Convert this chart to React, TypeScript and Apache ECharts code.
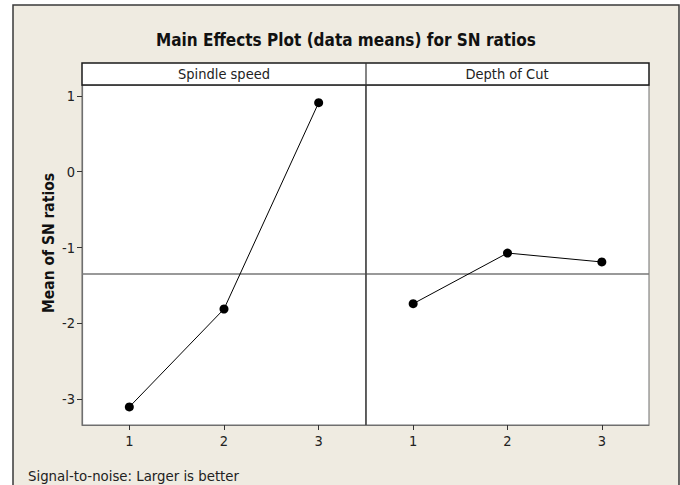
import React, { useEffect, useRef } from "react";
import * as echarts from "echarts";

const levels = ["1", "2", "3"];
const spindleSpeed = [-3.105, -1.812, 0.912];
const depthOfCut = [-1.742, -1.073, -1.191];
const panelTitles = ["Spindle speed", "Depth of Cut"];
const yTicks = [-3, -2, -1, 0, 1];
const yMin = -3.343;
const yMax = 1.145;
const chartTitle = "Main Effects Plot (data means) for SN ratios";
const yAxisTitle = "Mean of SN ratios";
const footerText = "Signal-to-noise: Larger is better";

const FONT = "'DejaVu Sans Condensed', 'DejaVu Sans', sans-serif";

export default function App() {
  const ref = useRef<HTMLDivElement>(null);
  useEffect(() => {
    if (!ref.current) return;
    const chart = echarts.init(ref.current, null, { renderer: "svg" });
    const all = [...spindleSpeed, ...depthOfCut];
    const grandMean = all.reduce((a, b) => a + b, 0) / all.length;

    const grids = [
      { left: 82, right: 314, top: 85, bottom: 60 },
      { left: 366, right: 31, top: 85, bottom: 60 },
    ].map((g) => ({
      ...g,
      show: true,
      backgroundColor: "#ffffff",
      borderColor: "#6f6f6f",
      borderWidth: 1,
      containLabel: false,
    }));

    const xAxes = [0, 1].map((i) => ({
      type: "category",
      gridIndex: i,
      data: levels,
      boundaryGap: true,
      axisLine: { show: true, onZero: false, lineStyle: { color: "#6f6f6f", width: 1.2 } },
      axisTick: { show: true, alignWithLabel: true, length: 5, lineStyle: { color: "#333" } },
      axisLabel: { show: true, color: "#222", fontSize: 14.5, fontFamily: FONT, margin: 8 },
      splitLine: { show: false },
    }));

    const yAxes = [0, 1].map((i) => ({
      type: "value",
      gridIndex: i,
      min: yMin,
      max: yMax,
      axisLine: { show: i === 0, lineStyle: { color: "#6f6f6f", width: 1.2 } },
      axisTick: {
        show: i === 0,
        length: 5,
        customValues: yTicks,
        lineStyle: { color: "#333" },
      },
      axisLabel: {
        show: i === 0,
        customValues: yTicks,
        color: "#222",
        fontSize: 14.5,
        fontFamily: FONT,
        margin: 7,
      },
      splitLine: { show: false },
    }));

    const makeSeries = (data: number[], i: number) => ({
      type: "line",
      xAxisIndex: i,
      yAxisIndex: i,
      data,
      symbol: "circle",
      symbolSize: 9,
      itemStyle: { color: "#000" },
      lineStyle: { color: "#000", width: 1 },
      z: 5,
      markLine: {
        silent: true,
        symbol: "none",
        label: { show: false },
        lineStyle: { color: "#777", width: 1.5, type: "solid" },
        data: [{ yAxis: grandMean }],
        z: 3,
      },
    });

    chart.setOption({
      animation: false,
      backgroundColor: "#ffffff",
      grid: grids,
      xAxis: xAxes,
      yAxis: yAxes,
      series: [makeSeries(spindleSpeed, 0), makeSeries(depthOfCut, 1)],
      graphic: [
        {
          type: "rect",
          z: -10,
          shape: { x: 13, y: 5, width: 666, height: 500 },
          style: { fill: "#EFEBE1", stroke: "#3a3a3a", lineWidth: 1.5 },
        },
        {
          type: "rect",
          z: 10,
          shape: { x: 82, y: 63, width: 567, height: 22 },
          style: { fill: "#ffffff", stroke: "#1a1a1a", lineWidth: 1.5 },
        },
        {
          type: "line",
          z: 10,
          shape: { x1: 366, y1: 63, x2: 366, y2: 425 },
          style: { stroke: "#333", lineWidth: 1.2 },
        },
        {
          type: "text",
          z: 11,
          x: 224,
          y: 74,
          style: {
            text: panelTitles[0],
            fontSize: 14.5,
            fontFamily: FONT,
            fill: "#222",
            align: "center",
            verticalAlign: "middle",
          },
        },
        {
          type: "text",
          z: 11,
          x: 507,
          y: 74,
          style: {
            text: panelTitles[1],
            fontSize: 14.5,
            fontFamily: FONT,
            fill: "#222",
            align: "center",
            verticalAlign: "middle",
          },
        },
        {
          type: "text",
          z: 11,
          x: 346,
          y: 40,
          style: {
            text: chartTitle,
            fontSize: 17,
            fontWeight: "bold",
            fontFamily: FONT,
            fill: "#111",
            align: "center",
            verticalAlign: "middle",
          },
        },
        {
          type: "text",
          z: 11,
          x: 49,
          y: 243,
          rotation: Math.PI / 2,
          style: {
            text: yAxisTitle,
            fontSize: 15.5,
            fontWeight: "bold",
            fontFamily: FONT,
            fill: "#111",
            align: "center",
            verticalAlign: "middle",
          },
        },
        {
          type: "text",
          z: 11,
          x: 28,
          y: 475,
          style: {
            text: footerText,
            fontSize: 14.8,
            fontFamily: FONT,
            fill: "#222",
            align: "left",
            verticalAlign: "middle",
          },
        },
      ],
    });
    return () => chart.dispose();
  }, []);
  return (
    <div
      ref={ref}
      style={{ position: "fixed", left: 0, top: 0, width: 680, height: 485 }}
    />
  );
}
